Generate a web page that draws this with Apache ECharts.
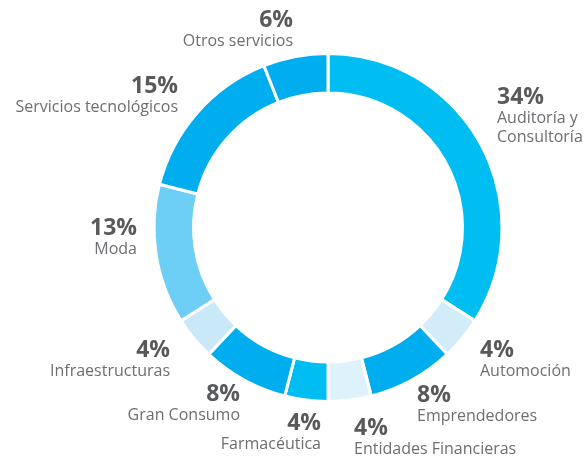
<!DOCTYPE html>
<html>
<head>
<meta charset="utf-8">
<script src="https://cdn.jsdelivr.net/npm/echarts@6/dist/echarts.min.js"></script>
<style>
  html, body { margin: 0; padding: 0; background: #fff; }
  #chart { width: 588px; height: 460px; }
</style>
</head>
<body>
<div id="chart"></div>
<script>
// sectores, en sentido horario desde arriba
var names = ['Auditoría y\nConsultoría', 'Automoción', 'Emprendedores', 'Entidades Financieras',
  'Farmacéutica', 'Gran Consumo', 'Infraestructuras', 'Moda', 'Servicios tecnológicos', 'Otros servicios'];
var shares = [34, 4, 8, 4, 4, 8, 4, 13, 15, 6];
var colors = ['#00bdf2', '#d2edf9', '#00aeef', '#def2fb', '#00bdf2',
  '#00aeef', '#c9e9f8', '#6dcff6', '#00aeef', '#00aeef'];

// donde va cada etiqueta (x del borde alineado, y arriba del bloque)
var labelPos = [
  [497, 85, 'left'], [480, 338, 'left'], [417, 383, 'left'], [354, 416, 'left'], [321, 411, 'right'],
  [240, 382, 'right'], [170, 338, 'right'], [137, 216, 'right'], [178, 74, 'right'], [293, 8, 'right']
];

var chart = echarts.init(document.getElementById('chart'));

var data = names.map(function (n, i) {
  var al = labelPos[i][2];
  return {
    name: n,
    value: shares[i],
    itemStyle: { color: colors[i] },
    label: {
      align: al,
      rich: {
        p: { fontSize: 23, fontWeight: 'bold', color: '#58595b', lineHeight: 24, align: al, fontFamily: 'Open Sans' },
        n: { fontSize: 16, color: '#6d6e71', lineHeight: 19, align: al, fontFamily: 'Open Sans' }
      }
    }
  };
});

chart.setOption({
  animation: false,
  series: [{
    type: 'pie',
    center: [328, 227.5],
    radius: [134.5, 174],
    startAngle: 90,
    clockwise: true,
    itemStyle: { borderColor: '#fff', borderWidth: 3 },
    label: {
      show: true,
      position: 'outside',
      overflow: 'none',
      edgeDistance: 0,
      bleedMargin: 0,
      formatter: function (p) { return '{p|' + p.value + '%}\n{n|' + p.name + '}'; }
    },
    labelLine: { show: false },
    labelLayout: function (params) {
      var lp = labelPos[params.dataIndex];
      return { x: lp[0], y: lp[1], align: lp[2], verticalAlign: 'top' };
    },
    emphasis: { disabled: true },
    data: data
  }]
});
</script>
</body>
</html>
